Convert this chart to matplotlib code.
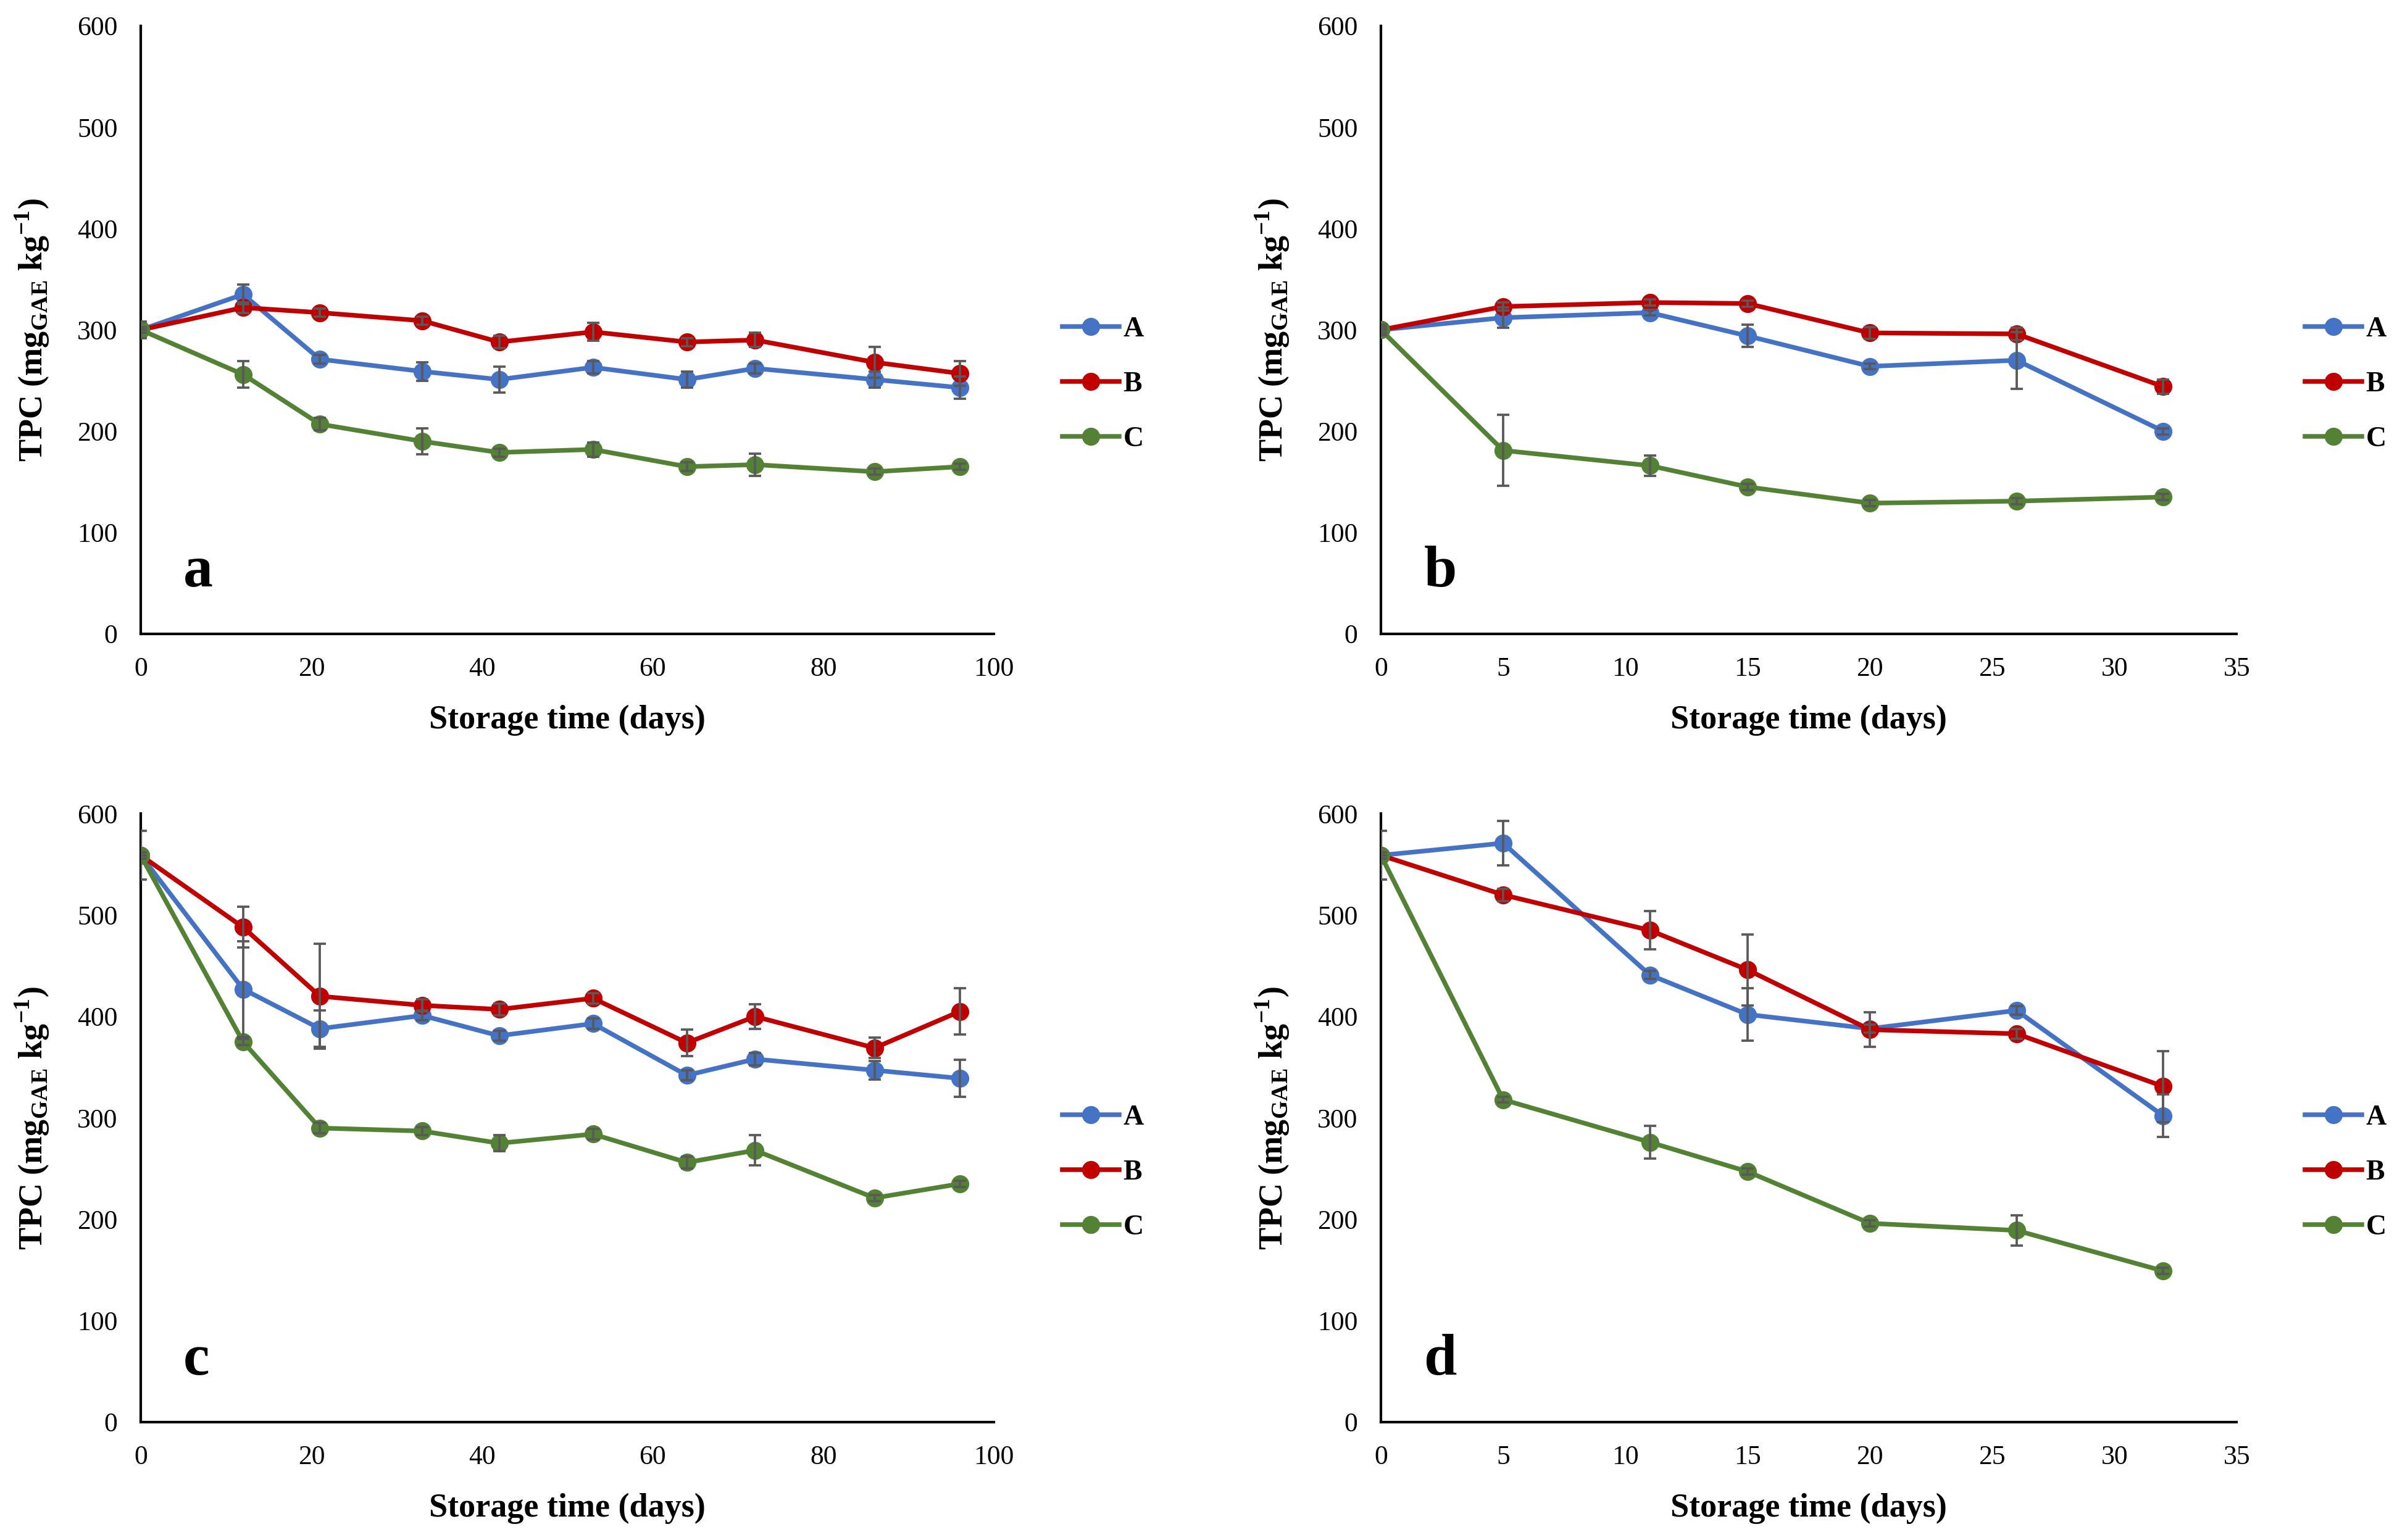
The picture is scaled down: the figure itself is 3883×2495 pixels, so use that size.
import numpy as np
import matplotlib
matplotlib.use("Agg")
import matplotlib.pyplot as plt

plt.rcParams['font.family'] = ['Liberation Serif', 'DejaVu Serif']
plt.rcParams['mathtext.fontset'] = 'custom'
plt.rcParams['mathtext.rm'] = 'Liberation Serif'
plt.rcParams['mathtext.bf'] = 'Liberation Serif:bold'

# storage days
days_ac = [0, 12, 21, 33, 42, 53, 64, 72, 86, 96]
days_bd = [0, 5, 11, 15, 20, 26, 32]

# panel a
a_A = [300, 335, 271, 259, 251, 263, 251, 262, 251, 243]
a_A_err = [8, 10, 4, 9, 13, 6, 8, 5, 8, 11]
a_B = [300, 322, 317, 309, 288, 298, 288, 290, 268, 257]
a_B_err = [0, 5, 4, 4, 6, 9, 4, 7, 15, 12]
a_C = [300, 256, 207, 190, 179, 182, 165, 167, 160, 165]
a_C_err = [3, 13, 6, 13, 4, 7, 4, 11, 3, 3]

# panel b
b_A = [300, 312, 317, 294, 264, 270, 200]
b_A_err = [5, 10, 3, 11, 3, 28, 3]
b_B = [300, 323, 327, 326, 297, 296, 244]
b_B_err = [0, 4, 3, 3, 6, 6, 7]
b_C = [300, 181, 166, 145, 129, 131, 135]
b_C_err = [3, 35, 10, 3, 3, 3, 3]

# panel c
c_A = [559, 427, 388, 401, 381, 393, 342, 358, 347, 339]
c_A_err = [24, 47, 18, 5, 5, 5, 5, 6, 9, 18]
c_B = [559, 488, 420, 411, 407, 418, 374, 400, 369, 405]
c_B_err = [0, 20, 52, 6, 6, 5, 13, 12, 10, 23]
c_C = [559, 375, 290, 287, 275, 284, 256, 268, 221, 235]
c_C_err = [3, 3, 5, 4, 8, 5, 6, 15, 3, 3]

# panel d
d_A = [559, 571, 441, 402, 388, 406, 302]
d_A_err = [24, 22, 4, 26, 4, 4, 21]
d_B = [559, 520, 485, 446, 387, 383, 331]
d_B_err = [0, 6, 19, 35, 17, 5, 35]
d_C = [559, 318, 276, 247, 196, 189, 149]
d_C_err = [3, 3, 16, 3, 3, 15, 3]

labels = ["A", "B", "C"]
colors = ["#4472C4", "#C00000", "#548235"]

panels = [
    ("a", days_ac, [a_A, a_B, a_C], [a_A_err, a_B_err, a_C_err], 100, 20),
    ("b", days_bd, [b_A, b_B, b_C], [b_A_err, b_B_err, b_C_err], 35, 5),
    ("c", days_ac, [c_A, c_B, c_C], [c_A_err, c_B_err, c_C_err], 100, 20),
    ("d", days_bd, [d_A, d_B, d_C], [d_A_err, d_B_err, d_C_err], 35, 5),
]

# axes boxes in figure fractions
boxes = [
    [0.0587, 0.5884, 0.3560, 0.3948],
    [0.5761, 0.5884, 0.3570, 0.3948],
    [0.0587, 0.0766, 0.3560, 0.3950],
    [0.5761, 0.0766, 0.3570, 0.3950],
]

fig = plt.figure(figsize=(3883 / 300, 2495 / 300), dpi=300)

for (letter, days, series, errs, xmax, xstep), box in zip(panels, boxes):
    ax = fig.add_axes(box)
    for vals, err, lab, col in zip(series, errs, labels, colors):
        ax.plot(days, vals, color=col, lw=1.8, marker="o", ms=6, label=lab, zorder=3)
        ax.errorbar(days, vals, yerr=err, fmt="none", ecolor="#595959",
                    elinewidth=0.9, capsize=2.5, capthick=0.9, zorder=4)
    ax.set_xlim(0, xmax)
    ax.set_ylim(0, 600)
    ax.set_xticks(np.arange(0, xmax + 1, xstep))
    ax.set_yticks(np.arange(0, 601, 100))
    ax.tick_params(length=0, labelsize=10.5, pad=9)
    for s in ["top", "right"]:
        ax.spines[s].set_visible(False)
    for s in ["left", "bottom"]:
        ax.spines[s].set_linewidth(1.0)
        ax.spines[s].set_color("black")
    ax.set_xlabel("Storage time (days)", fontsize=13, fontweight="bold", labelpad=9)
    ax.set_ylabel(r"TPC (mg$_{\mathbf{GAE}}$ kg$^{\mathbf{-1}}$)", fontsize=13,
                  fontweight="bold", labelpad=10)
    ax.text(0.05, 0.078, letter, transform=ax.transAxes, fontsize=23,
            fontweight="bold", ha="left", va="baseline")
    leg = ax.legend(loc="center left", bbox_to_anchor=(1.08, 0.41), frameon=False,
                    fontsize=11, handlelength=2.0, handletextpad=0.15,
                    labelspacing=1.02, borderpad=0, borderaxespad=0)
    for t in leg.get_texts():
        t.set_fontweight("bold")

fig.savefig("out.png", dpi=300)
